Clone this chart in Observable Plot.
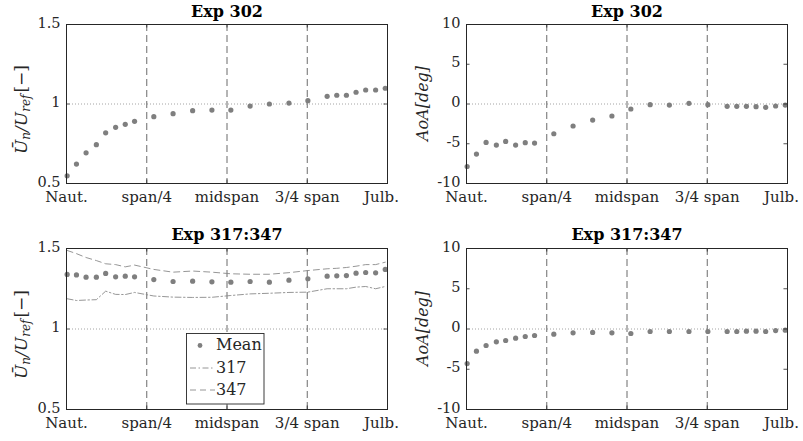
<!DOCTYPE html>
<html><head><meta charset="utf-8">
<script src="https://cdn.jsdelivr.net/npm/d3@7"></script>
<script src="https://cdn.jsdelivr.net/npm/@observablehq/plot@0.6"></script>
<style>body{margin:0;background:#fff} #c{position:relative;width:803px;height:441px;overflow:hidden;background:#fff}</style>
</head><body><div id="c"></div>
<script>
// Span stations (fraction of span, Naut. = 0, Julb. = 1)
const stations = [0.002,0.031,0.061,0.093,0.122,0.153,0.183,0.212,0.272,0.332,0.393,0.453,0.512,0.572,0.632,0.693,0.752,0.812,0.842,0.872,0.902,0.932,0.963,0.993];
// Exp 302
const u302 = [0.548,0.622,0.693,0.744,0.819,0.853,0.872,0.891,0.920,0.939,0.958,0.962,0.962,0.987,1.000,1.006,1.021,1.048,1.055,1.055,1.074,1.088,1.088,1.099];
const aoa302 = [-7.86,-6.30,-4.83,-5.17,-4.71,-5.17,-4.87,-4.92,-3.74,-2.77,-2.02,-1.51,-0.63,-0.08,-0.13,0.08,-0.08,-0.29,-0.29,-0.29,-0.34,-0.42,-0.25,-0.13];
// Exp 317:347
const uMean = [1.339,1.336,1.322,1.322,1.345,1.324,1.328,1.324,1.307,1.295,1.297,1.293,1.291,1.295,1.291,1.303,1.312,1.328,1.330,1.332,1.347,1.351,1.349,1.370];
const u317 = [1.188,1.177,1.180,1.182,1.235,1.215,1.214,1.227,1.205,1.198,1.196,1.197,1.208,1.218,1.222,1.227,1.229,1.250,1.250,1.250,1.260,1.264,1.250,1.264];
const u347 = [1.488,1.468,1.444,1.425,1.405,1.400,1.386,1.397,1.370,1.353,1.360,1.353,1.343,1.340,1.340,1.350,1.363,1.374,1.377,1.382,1.390,1.400,1.400,1.415];
const aoaMean = [-4.29,-2.75,-2.05,-1.59,-1.43,-1.14,-0.93,-0.81,-0.64,-0.48,-0.43,-0.48,-0.56,-0.31,-0.31,-0.31,-0.31,-0.31,-0.31,-0.27,-0.27,-0.31,-0.19,-0.14];
// Axes
const xTicks = [0, 0.25, 0.5, 0.75, 1];
const xTickLabels = ["Naut.", "span/4", "midspan", "3/4 span", "Julb."];
const uTicks = [0.5, 1, 1.5];
const aoaTicks = [-10, -5, 0, 5, 10];
const legendLabels = ["Mean", "317", "347"];

const FONT = "DejaVu Serif";
const INK = "#262626";
const DOT = "#7f7f7f";
const DASH317 = "6,2.5,1.5,2.5";
const DASH347 = "6,4";

const uLabel = [{t:"U\u0304"},{t:"n",sub:true},{t:"/U"},{t:"ref",sub:true},{t:"[\u2212]",up:true,dx:2}];
const aoaLabel = [{t:"AoA[deg]"}];

function panel(o) {
  const rows = stations.map((s, i) => ({x: s, y: o.values[i], a: o.lineA ? o.lineA[i] : null, b: o.lineB ? o.lineB[i] : null}));
  const [y0, y1] = o.domain;
  const tl = 0.011;
  const tly = (y1 - y0) * 0.022;
  const fmtX = d => xTickLabels[xTicks.indexOf(d)];
  const marks = [
    Plot.ruleY([o.ref], {stroke: "#9a9a9a", strokeDasharray: "1,2", strokeWidth: 0.9}),
    Plot.ruleX(xTicks, {stroke: "#5a5a5a", strokeDasharray: "7,4", strokeWidth: 0.9}),
  ];
  if (o.lineA) {
    marks.push(Plot.line(rows, {x: "x", y: "a", stroke: "#8a8a8a", strokeWidth: 0.9, strokeDasharray: DASH317}));
    marks.push(Plot.line(rows, {x: "x", y: "b", stroke: "#8a8a8a", strokeWidth: 0.9, strokeDasharray: DASH347}));
  }
  marks.push(
    Plot.dot(rows, {x: "x", y: "y", r: 2.6, fill: DOT, stroke: "none"}),
    Plot.ruleY(o.ticks, {x1: 0, x2: tl, stroke: INK, strokeWidth: 0.8}),
    Plot.ruleY(o.ticks, {x1: 1 - tl, x2: 1, stroke: INK, strokeWidth: 0.8}),
    Plot.ruleX(xTicks, {y1: y0, y2: y0 + tly, stroke: INK, strokeWidth: 0.8}),
    Plot.ruleX(xTicks, {y1: y1 - tly, y2: y1, stroke: INK, strokeWidth: 0.8}),
    Plot.frame({stroke: INK, strokeWidth: 1}),
    Plot.axisX({ticks: xTicks.slice(0, 4), tickFormat: fmtX, tickSize: 0, tickPadding: 8, label: null, fontSize: 15, fill: INK}),
    Plot.axisX({ticks: xTicks.slice(4), tickFormat: fmtX, tickSize: 0, tickPadding: 8, label: null, fontSize: 15, fill: INK, dx: -6}),
    Plot.axisY({ticks: o.ticks, tickFormat: d => String(d), tickSize: 0, tickPadding: 6, label: null, fontSize: 14.5, fill: INK, dy: -1.5}),
    Plot.text([o.title], {frameAnchor: "top", lineAnchor: "middle", dy: o.titleDy, fontWeight: "bold", fontSize: 16, fill: "#000"})
  );
  const svg = Plot.plot({
    width: o.w, height: o.h,
    marginLeft: o.ml, marginRight: o.mr, marginTop: o.mt, marginBottom: o.mb,
    x: {domain: [0, 1]},
    y: {domain: o.domain},
    style: {fontFamily: FONT, fontSize: "15px", color: INK, background: "transparent", overflow: "visible", position: "absolute", left: o.left + "px", top: o.top + "px"},
    marks
  });
  // rotated y-axis label with subscripts
  const s = d3.select(svg);
  const cy = o.mt + (o.h - o.mt - o.mb) / 2 + (o.labelShift || 0);
  const t = s.append("text")
    .attr("transform", `translate(22,${cy}) rotate(-90)`)
    .attr("text-anchor", "middle").attr("dominant-baseline", "middle")
    .attr("font-family", FONT).attr("font-size", o.labelSize || 16).attr("fill", INK);
  let shift = 0;
  o.label.forEach(p => {
    const sp = t.append("tspan").text(p.t).attr("font-style", p.up ? "normal" : "italic");
    const want = p.sub ? 4 : 0;
    if (want !== shift) { sp.attr("dy", want - shift); shift = want; }
    if (p.dx) sp.attr("dx", p.dx);
    if (p.sub) sp.attr("font-size", 12);
  });
  return svg;
}

const c = document.getElementById("c");
c.appendChild(panel({values: u302, domain: [0.5, 1.5], ticks: uTicks, ref: 1, title: "Exp 302", label: uLabel, labelShift: 6, labelSize: 17,
  w: 401, h: 220, ml: 66, mr: 14, mt: 24, mb: 37, left: 0, top: 0, titleDy: -13}));
c.appendChild(panel({values: aoa302, domain: [-10, 10], ticks: aoaTicks, ref: 0, title: "Exp 302", label: aoaLabel,
  w: 402, h: 220, ml: 65, mr: 16, mt: 24, mb: 37, left: 401, top: 0, titleDy: -13}));
const bl = panel({values: uMean, lineA: u317, lineB: u347, domain: [0.5, 1.5], ticks: uTicks, ref: 1, title: "Exp 317:347", label: uLabel, labelShift: 6, labelSize: 17,
  w: 401, h: 221, ml: 66, mr: 14, mt: 28, mb: 32, left: 0, top: 220, titleDy: -14});
c.appendChild(bl);
c.appendChild(panel({values: aoaMean, domain: [-10, 10], ticks: aoaTicks, ref: 0, title: "Exp 317:347", label: aoaLabel,
  w: 402, h: 221, ml: 65, mr: 16, mt: 28, mb: 32, left: 401, top: 220, titleDy: -14}));

// legend in bottom-left panel
const lg = d3.select(bl).append("g").attr("font-family", FONT).attr("font-size", 16).attr("fill", INK).attr("text-anchor", "start");
lg.append("rect").attr("x", 186.5).attr("y", 113.5).attr("width", 77.5).attr("height", 70.5)
  .attr("fill", "#fff").attr("stroke", INK).attr("stroke-width", 0.9);
const rowsY = [125.5, 148, 170];
lg.append("circle").attr("cx", 200).attr("cy", rowsY[0]).attr("r", 2.4).attr("fill", DOT);
lg.append("line").attr("x1", 190).attr("x2", 215).attr("y1", rowsY[1]).attr("y2", rowsY[1]).attr("stroke", "#8a8a8a").attr("stroke-width", 0.9).attr("stroke-dasharray", DASH317);
lg.append("line").attr("x1", 190).attr("x2", 215).attr("y1", rowsY[2]).attr("y2", rowsY[2]).attr("stroke", "#8a8a8a").attr("stroke-width", 0.9).attr("stroke-dasharray", DASH347);
legendLabels.forEach((l, i) => lg.append("text").attr("x", 216).attr("y", rowsY[i]).attr("dominant-baseline", "middle").attr("text-anchor", "start").text(l));
</script></body></html>
